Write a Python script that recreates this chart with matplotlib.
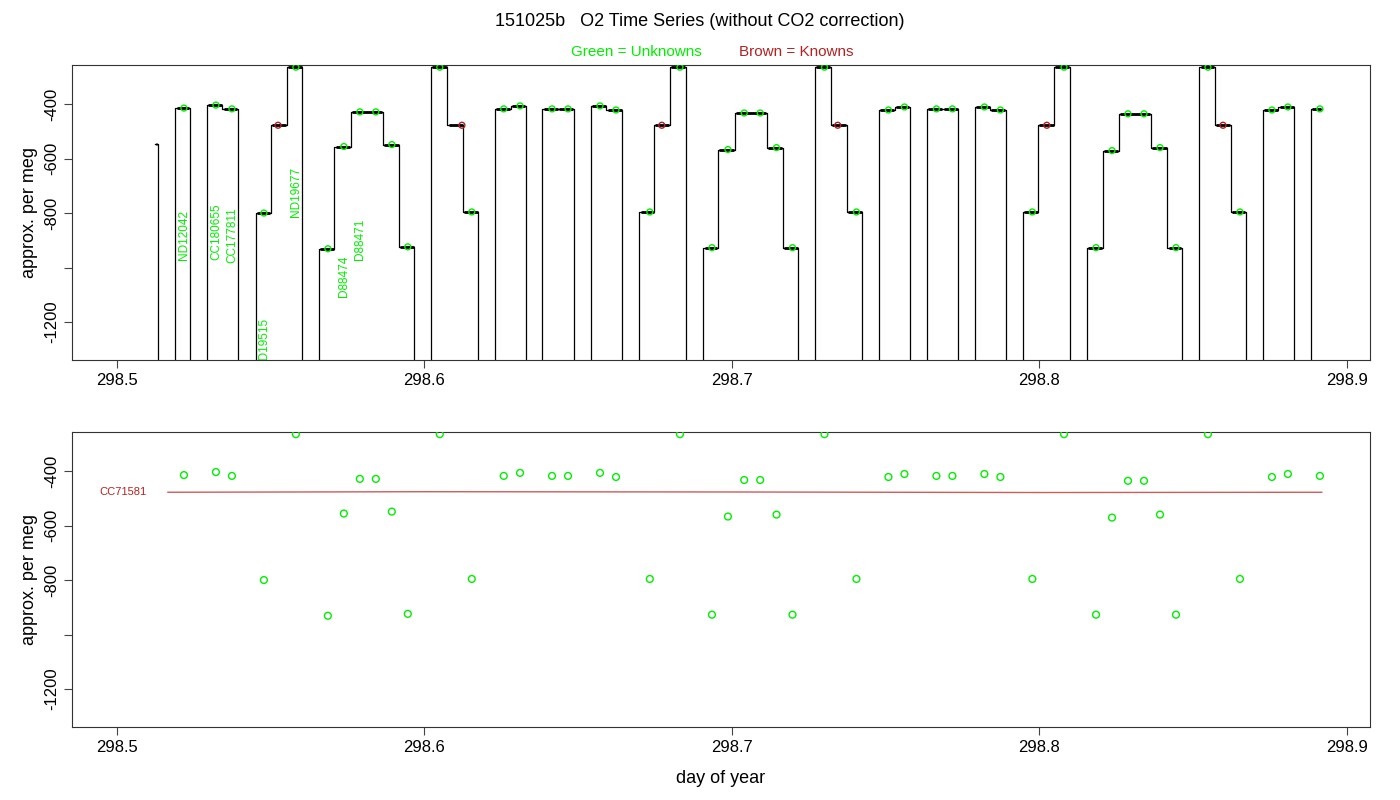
import matplotlib
matplotlib.use("Agg")
import matplotlib.pyplot as plt
import numpy as np

plt.rcParams['font.family'] = ['Liberation Sans', 'DejaVu Sans']

FLOOR = -1500
# Runs in the O2 time series: start time, segment end times, segment levels
run_start = [298.5124, 298.5190, 298.5293, 298.5451, 298.5658, 298.6021, 298.6229,
             298.6384, 298.6541, 298.6699, 298.6907, 298.7270, 298.7479, 298.7635,
             298.7790, 298.7947, 298.8155, 298.8520, 298.8726, 298.8883]
run_ends = [[298.5134], [298.5237], [298.5343, 298.5394],
            [298.5501, 298.5552, 298.5603],
            [298.5707, 298.5761, 298.5864, 298.5918, 298.5967],
            [298.6075, 298.6126, 298.6175], [298.6280, 298.6330],
            [298.6435, 298.6486], [298.6592, 298.6643],
            [298.6747, 298.6798, 298.6850],
            [298.6955, 298.7010, 298.7113, 298.7165, 298.7216],
            [298.7322, 298.7373, 298.7424], [298.7529, 298.7579],
            [298.7686, 298.7736], [298.7840, 298.7891],
            [298.7996, 298.8048, 298.8099],
            [298.8206, 298.8259, 298.8363, 298.8416, 298.8464],
            [298.8571, 298.8623, 298.8672], [298.8777, 298.8829], [298.8918]]
run_levels = [[-545], [-415], [-404, -418], [-800, -478, -265],
              [-931, -556, -429, -549, -924], [-265, -478, -796], [-418, -407],
              [-418, -418], [-407, -422], [-796, -478, -265],
              [-927, -567, -433, -560, -927], [-265, -478, -796], [-422, -411],
              [-418, -418], [-411, -422], [-796, -478, -265],
              [-927, -571, -436, -560, -927], [-265, -478, -796], [-422, -411],
              [-418]]

# Unknown sample results (green points)
unk_t = [298.5218, 298.5322, 298.5374, 298.5478, 298.5582, 298.5686, 298.5738,
         298.5790, 298.5842, 298.5894, 298.5946, 298.6050, 298.6154, 298.6258,
         298.6311, 298.6415, 298.6467, 298.6571, 298.6623, 298.6733, 298.6831,
         298.6935, 298.6987, 298.7040, 298.7092, 298.7145, 298.7197, 298.7301,
         298.7405, 298.7509, 298.7561, 298.7665, 298.7717, 298.7821, 298.7873,
         298.7977, 298.8080, 298.8184, 298.8236, 298.8288, 298.8340, 298.8392,
         298.8444, 298.8548, 298.8652, 298.8756, 298.8808, 298.8912]
unk_v = [-415, -404, -418, -800, -265, -931, -556, -429, -429, -549, -924, -265,
         -796, -418, -407, -418, -418, -407, -422, -796, -265, -927, -567, -433,
         -433, -560, -927, -265, -796, -422, -411, -418, -418, -411, -422, -796,
         -265, -927, -571, -436, -436, -560, -927, -265, -796, -422, -411, -418]

# Known standard (brown points)
known_t = [298.5524, 298.6122, 298.6772, 298.7344, 298.8024, 298.8597]
known_v = [-478, -478, -478, -478, -478, -478]

# CC71581 reference fit line
ref_t = [298.5166, 298.6000, 298.7000, 298.8000, 298.8918]
ref_v = [-478, -476, -477, -479, -478]

# Sample labels (upper panel)
lab_names = ['ND12042', 'CC180655', 'CC177811', 'ND19515', 'ND19677',
             'D88472', 'D88474', 'D88471']
lab_t = [298.5218, 298.5322, 298.5374, 298.5478, 298.5582, 298.5686,
         298.5738, 298.5790]
lab_y = [-972, -972, -983, -1369, -815, -1490, -1108, -972]

GREEN = '#00ee00'
BROWN = '#b22222'

fig = plt.figure(figsize=(14, 8), dpi=100)
W, H = 1400, 800
axA = fig.add_axes([72 / W, 1 - 360 / H, 1298 / W, 295 / H])
axB = fig.add_axes([72 / W, 1 - 727 / H, 1298 / W, 295 / H])

for i, (s, ends, levs) in enumerate(zip(run_start, run_ends, run_levels)):
    xs, ys = [], []
    if i > 0:
        xs.append(s); ys.append(FLOOR)
    xs.append(s); ys.append(levs[0])
    for j, (e, lv) in enumerate(zip(ends, levs)):
        xs.append(e); ys.append(lv)
        if j + 1 < len(levs):
            xs.append(e); ys.append(levs[j + 1])
    if i < len(run_start) - 1:
        xs.append(ends[-1]); ys.append(FLOOR)
    axA.plot(xs, ys, color='black', lw=0.9)
    prev = s
    for e, lv in zip(ends, levs):
        axA.plot([prev + 0.0004, e - 0.0002], [lv, lv], color='black', lw=2.0,
                 solid_capstyle='butt')
        prev = e

axA.scatter(unk_t, unk_v, s=18, facecolors='none', edgecolors=GREEN, lw=1.0, zorder=3)
axA.scatter(known_t, known_v, s=18, facecolors='none', edgecolors=BROWN, lw=1.0, zorder=3)
for n, t, y in zip(lab_names, lab_t, lab_y):
    axA.text(t, y, n, rotation=90, color=GREEN, fontsize=8.5, ha='center',
             va='bottom', clip_on=True)

axB.scatter(unk_t, unk_v, s=24, facecolors='none', edgecolors=GREEN, lw=1.0, zorder=3)
axB.plot(ref_t, ref_v, color='#cd5c5c', lw=1.0)
axB.text(298.4944, ref_v[0], 'CC71581', color=BROWN, fontsize=8, ha='left', va='center')

xt = [298.5, 298.6, 298.7, 298.8, 298.9]
yt = [-400, -600, -800, -1000, -1200]
ytl = ['-400', '-600', '-800', '', '-1200']
for ax in (axA, axB):
    ax.set_xlim(298.4854, 298.9075)
    ax.set_ylim(-1339, -257)
    ax.set_xticks(xt)
    ax.set_xticklabels([f'{v:.1f}' for v in xt], fontsize=12)
    ax.set_yticks(yt)
    ax.set_yticklabels(ytl, fontsize=12, rotation=90, va='center')
    ax.tick_params(length=6, width=0.8, color='#444444')
    ax.set_ylabel('approx. per meg', fontsize=13)
    for sp in ax.spines.values():
        sp.set_linewidth(0.8)
        sp.set_color('#333333')

axB.set_xlabel('day of year', fontsize=13, labelpad=11)

fig.text(0.5, 1 - 22 / H, '151025b   O2 Time Series (without CO2 correction)',
         ha='center', va='center', fontsize=13)
fig.text(636 / W, 1 - 52 / H, 'Green = Unknowns', color=GREEN, ha='center',
         va='center', fontsize=11)
fig.text(796 / W, 1 - 52 / H, 'Brown = Knowns', color=BROWN, ha='center',
         va='center', fontsize=11)

fig.savefig('out.png', dpi=100)
